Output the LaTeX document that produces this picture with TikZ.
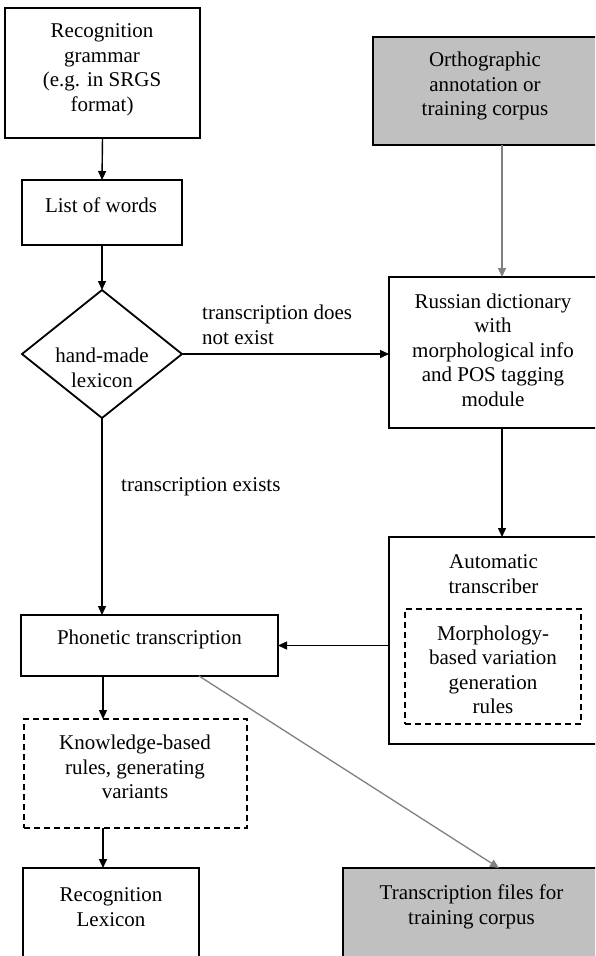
\documentclass[tikz,border=0pt]{standalone}
\usepackage{fontspec}
\setmainfont{Liberation Serif}
\usetikzlibrary{arrows.meta,shapes.geometric}
\definecolor{boxgray}{HTML}{C0C0C0}
\definecolor{arrgray}{HTML}{808080}
\tikzset{
  box/.style={draw=black, line width=1.8pt, inner sep=0pt, outer sep=0pt},
  graybox/.style={box, fill=boxgray},
  dashbox/.style={draw=black, line width=1.5pt, dash pattern=on 6pt off 4pt, inner sep=0pt, outer sep=0pt},
  txt/.style={font=\fontsize{21}{24.5}\selectfont, align=center, inner sep=0pt},
  lbl/.style={font=\fontsize{21}{24.5}\selectfont, align=left, inner sep=0pt, anchor=west},
  arr/.style={draw=black, line width=1.4pt, -{Triangle[length=9pt,width=8pt]}},
  garr/.style={draw=arrgray, line width=1.3pt, -{Triangle[length=9pt,width=8pt]}},
}
\begin{document}
\begin{tikzpicture}[x=1pt,y=-1pt]
\useasboundingbox (0,0) rectangle (595,956);
\clip (0,0) rectangle (595,956);
\fill[white] (0,0) rectangle (595,956);

% boxes
\node[box, minimum width=195pt, minimum height=130pt] (grammar) at (102.5,73) {};
\node[box, minimum width=160pt, minimum height=65pt] (words) at (102,212.5) {};
\node[draw=black, line width=1.8pt, shape=diamond, aspect=1.25, minimum width=160pt, minimum height=128pt, inner sep=0pt, outer sep=0pt] (dia) at (102,354) {};
\node[graybox, minimum width=227pt, minimum height=108pt] (ortho) at (486.5,91) {};
\node[box, minimum width=211pt, minimum height=151pt] (russ) at (494.5,352.5) {};
\node[box, minimum width=211pt, minimum height=207pt] (auto) at (494.5,640.5) {};
\node[dashbox, minimum width=176pt, minimum height=115pt] (morph) at (493,666.5) {};
\node[box, minimum width=257pt, minimum height=61pt] (phon) at (149.5,645.5) {};
\node[dashbox, minimum width=223pt, minimum height=109pt] (know) at (135.5,773.5) {};
\node[box, minimum width=176pt, minimum height=102pt] (lex) at (111,919) {};
\node[graybox, minimum width=257pt, minimum height=102pt] (trans) at (471.5,919) {};

% texts
\node[txt] (tgrammar) at (102,70) {Recognition\\grammar\\(e.g. in SRGS\\format)};
\node[txt] (twords) at (101,205) {List of words};
\node[txt] (tdia) at (102,368) {hand-made\\lexicon};
\node[txt] (tortho) at (485,86) {Orthographic\\annotation or\\training corpus};
\node[txt] (truss) at (493,350) {Russian dictionary\\with\\morphological info\\and POS tagging\\module};
\node[txt] (tauto) at (493.5,574) {Automatic\\transcriber};
\node[txt] (tmorph) at (493,670) {Morphology-\\based variation\\generation\\rules};
\node[txt] (tphon) at (149.5,639) {Phonetic transcription};
\node[txt] (tknow) at (135,767) {Knowledge-based\\rules, generating\\variants};
\node[txt] (tlex) at (111,907) {Recognition\\Lexicon};
\node[txt] (ttrans) at (471.5,907) {Transcription files for\\training corpus};
\node[lbl] (ldoes) at (202,325) {transcription does\\not exist};
\node[lbl] (lexists) at (121,487) {transcription exists};

% helper coordinate for the left column of arrows under the phonetic box
\coordinate (px) at (103,0);

% connectors
\draw[arr] (grammar.south) -- (words.north);
\draw[arr] (words.south) -- (dia.north);
\draw[arr] (dia.east) -- (dia.east -| russ.west);
\draw[arr] (dia.south) -- (dia.south |- phon.north);
\draw[garr] ([xshift=15.5pt]ortho.south) -- ([xshift=7.5pt]russ.north);
\draw[arr] ([xshift=7.5pt]russ.south) -- ([xshift=7.5pt]auto.north);
\draw[arr] (auto.west |- phon.east) -- (phon.east);
\draw[arr] (px |- phon.south) -- (px |- know.north);
\draw[arr] (px |- know.south) -- (px |- lex.north);
\draw[garr] ([xshift=49.5pt]phon.south) -- ([xshift=27.5pt]trans.north);
\end{tikzpicture}
\end{document}
